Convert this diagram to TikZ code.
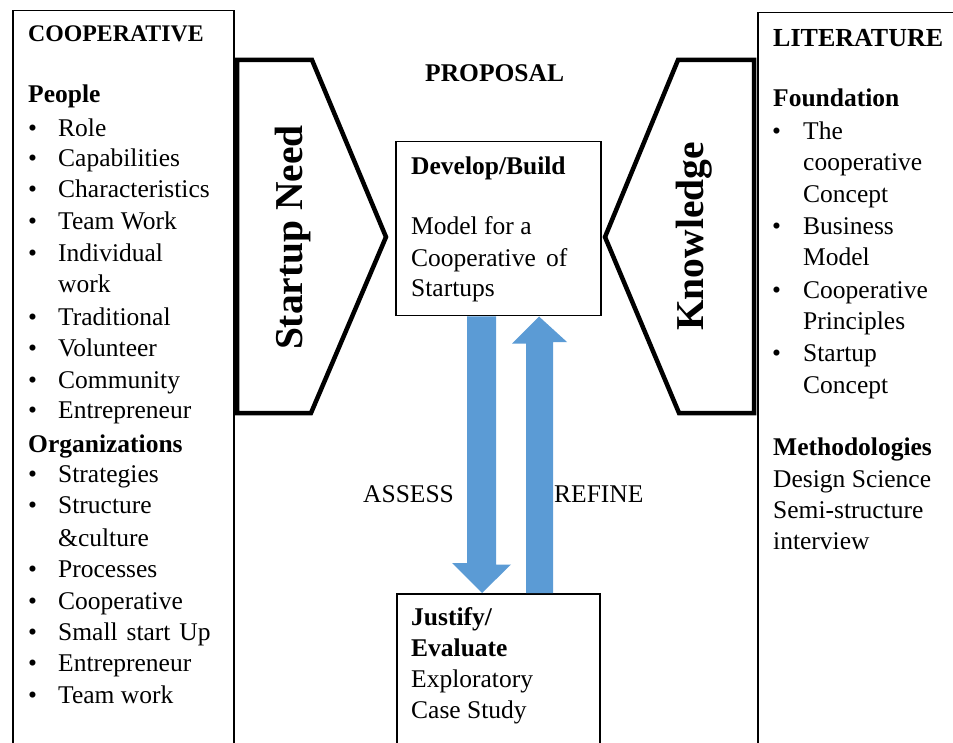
\documentclass[tikz,border=0pt]{standalone}
\usepackage{fontspec}
\setmainfont{Liberation Serif}
\usetikzlibrary{calc}
\definecolor{flowblue}{HTML}{5B9BD5}
\begin{document}
\begin{tikzpicture}[x=1pt,y=-1pt,
  frame/.style={draw, line width=1.5pt, inner sep=0pt, anchor=north west},
  chev/.style={draw, line width=4.5pt, line join=miter},
  txt/.style={inner sep=0pt, anchor=base west, font=\fontsize{25.5}{30}\selectfont},
  head/.style={inner sep=0pt, anchor=base west, font=\fontsize{25.5}{30}\selectfont\bfseries},
  big/.style={inner sep=0pt, anchor=base, rotate=90, font=\fontsize{39.5}{45}\selectfont\bfseries},
  flow/.style={fill=flowblue}]
\useasboundingbox (0,0) rectangle (953,743);
\clip (0,0) rectangle (953,743);

% outer columns and central boxes
\node[frame, minimum width=221pt, minimum height=800pt] (coop) at (12,10) {};
\node[frame, minimum width=250pt, minimum height=800pt] (lit) at (757,12) {};
\node[frame, minimum width=205pt, minimum height=174pt] (dev) at (395,141) {};
\node[frame, minimum width=203pt, minimum height=200pt] (eval) at (396,593) {};

% chevrons
\coordinate (sn1) at (237,60);  \coordinate (sn2) at (312,60);
\coordinate (sn3) at (386,237); \coordinate (sn4) at (311,413);
\coordinate (sn5) at (237,413);
\draw[chev] (sn1) -- (sn2) -- (sn3) -- (sn4) -- (sn5) -- cycle;
\coordinate (kn1) at (754,60);  \coordinate (kn2) at (678,60);
\coordinate (kn3) at (605,237); \coordinate (kn4) at (679,413);
\coordinate (kn5) at (754,413);
\draw[chev] (kn1) -- (kn2) -- (kn3) -- (kn4) -- (kn5) -- cycle;
\node[big] (need) at (302,237.5) {Startup Need};
\node[big] (know) at (703,236.5) {Knowledge};

% block arrows between the central boxes
\fill[flow] ($(dev.south west)+(72,0)$) -- ++(29,0) -- ++(0,248) -- ++(15,0)
  -- ($(eval.north west)+(86,0)$) -- ++(-30,-30) -- ++(15,0) -- cycle;
\fill[flow] ($(eval.north west)+(130,0)$) -- ++(27,0) -- ++(0,-251) -- ++(14,0)
  -- ($(dev.south west)+(144,0)$) -- ++(-27,27) -- ++(14,0) -- cycle;
\node[txt] (assess) at (363,502) {ASSESS};
\node[txt] (refine) at (554,502) {REFINE};

% centre column text
\node[head] (prop) at (425,82) {PROPOSAL};
\node[head] (devh) at (411,175) {Develop/Build};
\node[txt] (dev1) at (411,235) {Model for a};
\node[txt] (dev2) at (411,267) {Cooperative\hspace{4pt} of};
\node[txt] (dev3) at (411,297) {Startups};
\node[head] (evh1) at (411,625) {Justify/};
\node[head] (evh2) at (411,656) {Evaluate};
\node[txt] (ev1) at (411,687) {Exploratory};
\node[txt] (ev2) at (411,718) {Case Study};

% left column
\node[head, font=\fontsize{23.8}{28}\selectfont\bfseries] (coopt) at (28,42) {COOPERATIVE};
\node[head] (people) at (28,103) {People};
\node[head] (orgs) at (28,452) {Organizations};
\foreach \t/\yy [count=\i] in {Role/137, Capabilities/167, Characteristics/198,
    {Team Work}/230, Individual/262, work/293, Traditional/325, Volunteer/356,
    Community/388, Entrepreneur/418, Strategies/482, Structure/513,
    {\&culture}/546, Processes/577, Cooperative/609,
    {Small\hspace{2.5pt} start\hspace{2.5pt} Up}/640, Entrepreneur/671, {Team work}/703}
  \node[txt] (pl\i) at (58,\yy) {\t};
\foreach \yy [count=\i] in {137,167,198,230,262,325,356,388,418,482,513,577,609,640,671,703}
  \node[txt] (pb\i) at (28,\yy) {\textbullet};

% right column
\node[head, font=\fontsize{26}{30}\selectfont\bfseries] (litt) at (773,47) {LITERATURE};
\node[head] (found) at (773,107) {Foundation};
\foreach \t/\yy [count=\i] in {The/140, cooperative/171, Concept/203, Business/235,
    Model/266, Cooperative/299, Principles/329, Startup/361, Concept/393}
  \node[txt] (rl\i) at (803,\yy) {\t};
\foreach \yy [count=\i] in {140,235,299,361}
  \node[txt] (rb\i) at (772,\yy) {\textbullet};
\node[head] (meth) at (773,455) {Methodologies};
\node[txt] (m1) at (773,487) {Design Science};
\node[txt] (m2) at (773,518) {Semi-structure};
\node[txt] (m3) at (773,549) {interview};
\end{tikzpicture}
\end{document}
